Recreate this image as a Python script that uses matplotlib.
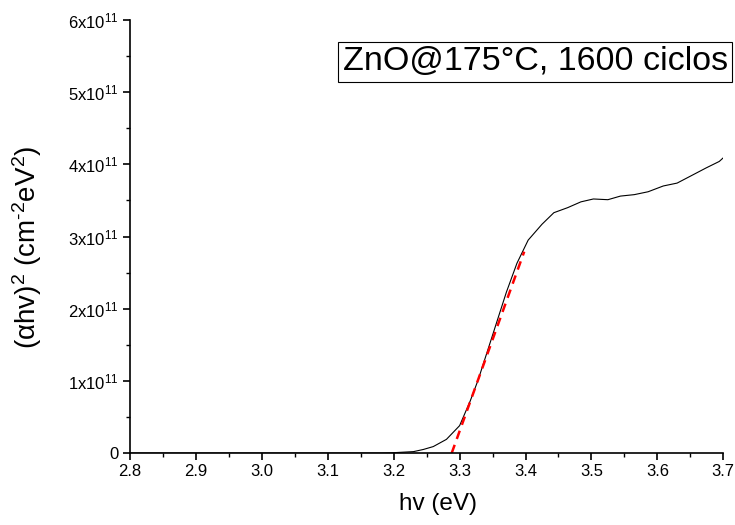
import matplotlib
matplotlib.use("Agg")
import matplotlib.pyplot as plt
from matplotlib.ticker import MultipleLocator, FuncFormatter

plt.rcParams['font.family'] = ['Liberation Sans', 'DejaVu Sans']
plt.rcParams['mathtext.fontset'] = 'custom'
plt.rcParams['mathtext.rm'] = 'Liberation Sans'
plt.rcParams['mathtext.it'] = 'Liberation Sans:italic'
plt.rcParams['mathtext.default'] = 'regular'

# Tauc plot data: photon energy (eV) and (alpha*h*nu)^2 (cm^-2 eV^2)
hv = [2.80, 3.00, 3.10, 3.18, 3.195, 3.23, 3.245, 3.26, 3.28, 3.30, 3.316,
      3.328, 3.346, 3.359, 3.371, 3.387, 3.404, 3.425, 3.443, 3.464, 3.484,
      3.503, 3.525, 3.544, 3.565, 3.586, 3.609, 3.630, 3.651, 3.674, 3.694,
      3.70]
ahv2 = [0.0, 0.0, 0.0, 0.0, 0.003e11, 0.02e11, 0.05e11, 0.09e11, 0.19e11,
        0.38e11, 0.72e11, 1.01e11, 1.52e11, 1.89e11, 2.23e11, 2.63e11,
        2.95e11, 3.17e11, 3.33e11, 3.40e11, 3.48e11, 3.52e11, 3.51e11,
        3.56e11, 3.58e11, 3.62e11, 3.70e11, 3.74e11, 3.84e11, 3.95e11,
        4.04e11, 4.09e11]

# Linear extrapolation of the absorption edge
fit_hv = [3.288, 3.398]
fit_ahv2 = [0.0, 2.79e11]

label_text = "ZnO@175°C, 1600 ciclos"

fig = plt.figure(figsize=(7.35, 5.25), dpi=100)
ax = fig.add_axes([0.177, 0.137, 0.807, 0.825])

ax.plot(hv, ahv2, color='black', linewidth=0.8)
ax.plot(fit_hv, fit_ahv2, color='red', linewidth=1.8, linestyle=(0, (3.5, 2.5)))

ax.set_xlim(2.8, 3.7)
ax.set_ylim(0, 6e11)

for s in ('top', 'right'):
    ax.spines[s].set_visible(False)
for s in ('left', 'bottom'):
    ax.spines[s].set_linewidth(1.2)

ax.xaxis.set_major_locator(MultipleLocator(0.1))
ax.xaxis.set_minor_locator(MultipleLocator(0.05))
ax.yaxis.set_major_locator(MultipleLocator(1e11))
ax.yaxis.set_minor_locator(MultipleLocator(0.5e11))
ax.xaxis.set_major_formatter(FuncFormatter(lambda v, p: f"{v:.1f}"))


def yfmt(v, p):
    n = int(round(v / 1e11))
    if n == 0:
        return "0"
    return rf"${n}x10^{{11}}$"


ax.yaxis.set_major_formatter(FuncFormatter(yfmt))
ax.tick_params(which='major', direction='out', length=5, width=1.2,
               labelsize=12, colors='black', pad=3)
ax.tick_params(which='minor', direction='out', length=3, width=1.0)

ax.set_xlabel("hv (eV)", fontsize=17.5)
ax.xaxis.set_label_coords(0.519, -0.092)
ax.set_ylabel(r"($\alpha$hv)$^2$ (cm$^{\text{-}2}$eV$^2$)", fontsize=20)
ax.yaxis.set_label_coords(-0.145, 0.476)

ax.text(1.008, 0.903, label_text, transform=ax.transAxes, fontsize=24.5,
        ha='right', va='center', clip_on=False,
        bbox=dict(boxstyle='square,pad=0.13', facecolor='white',
                  edgecolor='black', linewidth=0.8))

fig.savefig("out.png", dpi=100)
